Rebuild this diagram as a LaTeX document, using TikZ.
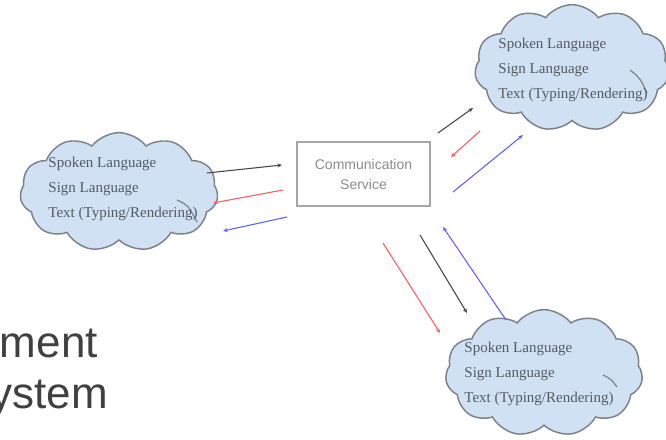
\documentclass[tikz,border=0pt]{standalone}
\usepackage{fontspec}
\setmainfont{Liberation Serif}
\newfontfamily\arialfont{Liberation Sans}
\usetikzlibrary{shapes.symbols,arrows.meta}
\definecolor{cloudfill}{RGB}{208,225,243}
\definecolor{cloudline}{RGB}{125,130,138}
\definecolor{cloudtext}{RGB}{85,90,98}
\definecolor{boxline}{RGB}{166,166,166}
\definecolor{boxtext}{RGB}{140,140,140}
\definecolor{bigtext}{RGB}{64,64,64}
\definecolor{arrblack}{RGB}{70,70,70}
\definecolor{arrred}{RGB}{255,90,100}
\definecolor{arrblue}{RGB}{95,95,255}
\begin{document}
\begin{tikzpicture}[x=0.75pt,y=-0.75pt,
  cloudbox/.style={cloud, cloud puffs=11, cloud puff arc=105, cloud ignores aspect,
    draw=cloudline, fill=cloudfill, line width=1.1pt, inner sep=0pt},
  cloudlabel/.style={align=left, text=cloudtext, font=\fontsize{11.25}{18.5}\selectfont, inner sep=0pt},
  servicebox/.style={draw=boxline, line width=1.6pt, fill=white, align=center,
    minimum width=99.75pt, minimum height=48pt, text=boxtext,
    font=\arialfont\fontsize{10.5}{15}\selectfont},
  bigword/.style={anchor=base east, text=bigtext, inner sep=0pt,
    font=\arialfont\fontsize{33}{38}\selectfont},
  conn/.style={line width=0.8pt, -{Stealth[length=3.5pt,width=3pt]}},
  blk/.style={conn, draw=arrblack},
  rd/.style={conn, draw=arrred},
  bl/.style={conn, draw=arrblue},
  innerarc/.style={draw=cloudline, line width=0.9pt}
]
\useasboundingbox (0,0) rectangle (666,439);

% clouds
\node[cloudbox, minimum width=148.5pt, minimum height=89pt] (lc) at (119,192) {};
\node[cloudbox, minimum width=146pt, minimum height=95pt] (tc) at (572,68) {};
\node[cloudbox, minimum width=148pt, minimum height=95pt] (bc) at (544,373) {};

% inner arcs of the clouds
\draw[innerarc] (177,200) .. controls (188,205) .. (197,222);
\draw[innerarc] (630,70) .. controls (640,78) .. (647,93);
\draw[innerarc] (603,375) .. controls (611,379) .. (617,387);

% cloud texts
\node[cloudlabel] (lt) at (123,189) {Spoken Language\\Sign Language\\Text (Typing/Rendering)};
\node[cloudlabel] (tt) at (573,70) {Spoken Language\\Sign Language\\Text (Typing/Rendering)};
\node[cloudlabel] (bt) at (539,374) {Spoken Language\\Sign Language\\Text (Typing/Rendering)};

% service box
\node[servicebox] (cs) at (363.5,174) {Communication\\Service};

% partial big words
\node[bigword] (w1) at (98,357) {ment};
\node[bigword] (w2) at (108,408) {ystem};

% connector end points
\coordinate (l1s) at (207,173); \coordinate (l1e) at (282,165);
\coordinate (l2s) at (283,190); \coordinate (l2e) at (213,203);
\coordinate (l3s) at (287,217); \coordinate (l3e) at (223,231);
\coordinate (t1s) at (438,133); \coordinate (t1e) at (473,108);
\coordinate (t2s) at (480,131); \coordinate (t2e) at (451,157);
\coordinate (t3s) at (453,192); \coordinate (t3e) at (523,135);
\coordinate (b1s) at (383,243); \coordinate (b1e) at (440,333);
\coordinate (b2s) at (420,235); \coordinate (b2e) at (467,313);
\coordinate (b3s) at (506,320); \coordinate (b3e) at (443,227);

% connectors
\draw[blk] (l1s) -- (l1e);
\draw[rd]  (l2s) -- (l2e);
\draw[bl]  (l3s) -- (l3e);
\draw[blk] (t1s) -- (t1e);
\draw[rd]  (t2s) -- (t2e);
\draw[bl]  (t3s) -- (t3e);
\draw[rd]  (b1s) -- (b1e);
\draw[blk] (b2s) -- (b2e);
\draw[bl]  (b3s) -- (b3e);
\end{tikzpicture}
\end{document}
